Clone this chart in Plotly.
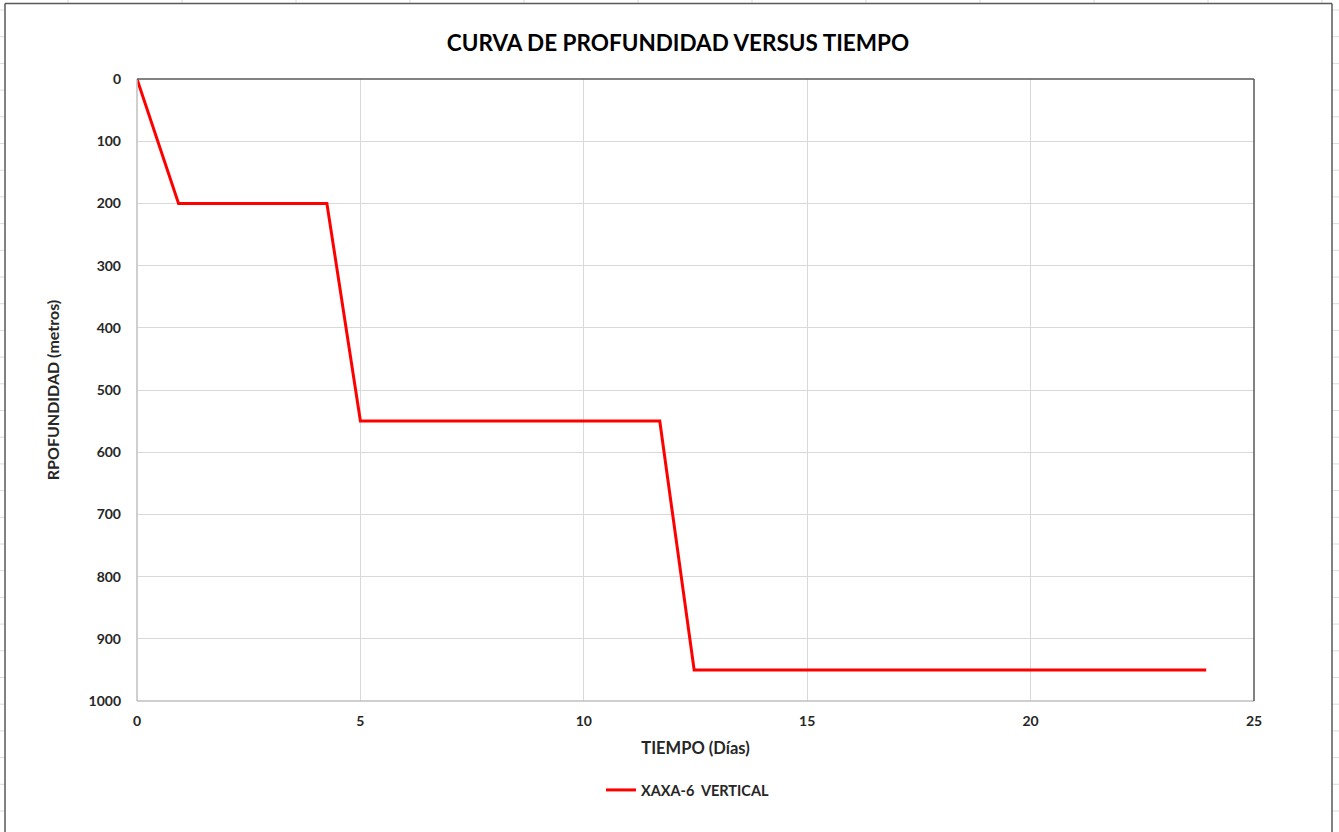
import plotly.graph_objects as go

# Data
tiempo_dias = [0, 0.93, 4.25, 5.0, 11.7, 12.47, 23.93]
profundidad_m = [0, 200, 200, 550, 550, 950, 950]
serie_nombre = "XAXA-6  VERTICAL"
x_ticks = [0, 5, 10, 15, 20, 25]
y_ticks = [0, 100, 200, 300, 400, 500, 600, 700, 800, 900, 1000]

W, H = 1339, 832
L, R, T, B = 137, 1254, 79, 701  # plot area pixel box


def px(xp):
    return (xp - L) / (R - L)


def py(yp):
    return (B - yp) / (B - T)


FONT = "Lato"
TXT = "#262626"

fig = go.Figure()
fig.add_trace(go.Scatter(
    x=tiempo_dias, y=profundidad_m, mode="lines", name=f"<b>{serie_nombre}</b>",
    line=dict(color="#ff0000", width=3),
))

shapes = []
# faint spreadsheet cell lines outside the chart frame
for xc in [68, 182, 296, 410, 524, 638, 752, 866, 980, 1094, 1208, 1322]:
    shapes.append(dict(type="line", xref="paper", yref="paper",
                       x0=px(xc), x1=px(xc), y0=py(0), y1=py(3),
                       line=dict(color="#dcdcdc", width=1), layer="below"))
for k in range(32):
    yr = 10 + k * 26.7
    shapes.append(dict(type="line", xref="paper", yref="paper",
                       x0=px(0), x1=px(5), y0=py(yr), y1=py(yr),
                       line=dict(color="#dcdcdc", width=1), layer="below"))
    shapes.append(dict(type="line", xref="paper", yref="paper",
                       x0=px(1332), x1=px(1339), y0=py(yr), y1=py(yr),
                       line=dict(color="#dcdcdc", width=1), layer="below"))
# chart frame
shapes.append(dict(type="line", xref="paper", yref="paper",
                   x0=px(5), x1=px(1332), y0=py(3.5), y1=py(3.5),
                   line=dict(color="#595959", width=1.5)))
shapes.append(dict(type="line", xref="paper", yref="paper",
                   x0=px(5), x1=px(5), y0=py(3.5), y1=py(840),
                   line=dict(color="#595959", width=1.5)))
shapes.append(dict(type="line", xref="paper", yref="paper",
                   x0=px(1332), x1=px(1332), y0=py(3.5), y1=py(840),
                   line=dict(color="#595959", width=1.5)))
# plot area border
shapes.append(dict(type="line", xref="paper", yref="paper",
                   x0=0, x1=0, y0=0, y1=1, line=dict(color="#bfbfbf", width=1.5)))
shapes.append(dict(type="line", xref="paper", yref="paper",
                   x0=0, x1=1, y0=0, y1=0, line=dict(color="#bfbfbf", width=1.5)))
shapes.append(dict(type="line", xref="paper", yref="paper",
                   x0=0, x1=1, y0=1, y1=1, line=dict(color="#595959", width=1.5)))
shapes.append(dict(type="line", xref="paper", yref="paper",
                   x0=1, x1=1, y0=0, y1=1, line=dict(color="#595959", width=1.5)))

fig.update_layout(
    width=W, height=H,
    margin=dict(l=L, r=W - R, t=T, b=H - B, pad=0),
    paper_bgcolor="white", plot_bgcolor="white",
    font=dict(family=FONT, color=TXT, size=14),
    title=dict(text="<b>CURVA DE PROFUNDIDAD VERSUS TIEMPO</b>",
               x=678 / W, xanchor="center", xref="container",
               y=1 - 43 / H, yanchor="middle", yref="container",
               font=dict(family=FONT, size=22.5, color="#000000")),
    xaxis=dict(range=[0, 25], tickvals=x_ticks,
               ticktext=[f"<b>{v}</b>" for v in x_ticks],
               showgrid=True, gridcolor="#d9d9d9", gridwidth=1,
               zeroline=False, showline=False, ticks="", ticklen=0,
               ticklabelstandoff=10,
               tickfont=dict(size=14, color=TXT),
               title=dict(text="<b>TIEMPO (Días)</b>", standoff=14,
                          font=dict(size=16.5, color=TXT))),
    yaxis=dict(range=[1000, 0], tickvals=y_ticks,
               ticktext=[f"<b>{v}</b>" for v in y_ticks],
               showgrid=True, gridcolor="#d9d9d9", gridwidth=1,
               zeroline=False, showline=False, ticks="",
               ticklabelstandoff=15,
               tickfont=dict(size=14, color=TXT),
               title=dict(text="<b>RPOFUNDIDAD (metros)</b>", standoff=24,
                          font=dict(size=16, color=TXT))),
    showlegend=True,
    legend=dict(orientation="h", x=px(601), xanchor="left",
                y=py(790), yanchor="middle",
                font=dict(size=14.5, color=TXT), bgcolor="rgba(0,0,0,0)"),
    shapes=shapes,
)

fig.write_html("out.html", config={"displayModeBar": False},
               post_script="document.body.style.margin='0';")
